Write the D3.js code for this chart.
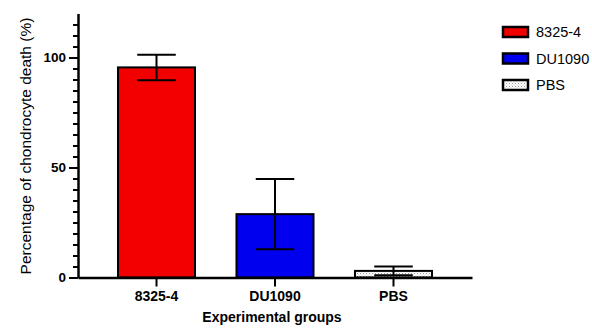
<!DOCTYPE html>
<html>
<head>
<meta charset="utf-8">
<script src="https://cdn.jsdelivr.net/npm/d3@7"></script>
<style>
  body { margin: 0; background: #fff; }
  svg text { font-family: "Liberation Sans", Arial, sans-serif; fill: #000; }
</style>
</head>
<body>
<div id="chart"></div>
<script>
// data
var groups = ["8325-4", "DU1090", "PBS"];
var means = [95.5, 28.8, 3.0];
var sds = [5.8, 16.0, 2.0];
var colors = ["#f20000", "#0000ee", "url(#dots)"];
var majorTicks = [0, 50, 100];
var minorTicks = [5, 10, 15, 20, 25, 30, 35, 40, 45, 55, 60, 65, 70, 75, 80, 85, 90, 95, 105, 110, 115];

var width = 592, height = 330;

var svg = d3.select("#chart").append("svg")
    .attr("width", width)
    .attr("height", height);

// dotted fill for the PBS bar
var pat = svg.append("defs").append("pattern")
    .attr("id", "dots")
    .attr("patternUnits", "userSpaceOnUse")
    .attr("width", 3).attr("height", 3);
pat.append("rect").attr("width", 3).attr("height", 3).attr("fill", "#fff");
pat.append("rect").attr("x", 0).attr("y", 0).attr("width", 1).attr("height", 1).attr("fill", "#999");
pat.append("rect").attr("x", 1.5).attr("y", 1.5).attr("width", 1).attr("height", 1).attr("fill", "#bbb");

// scales
var x = d3.scaleBand()
    .domain(groups)
    .range([78, 472])
    .paddingInner(0.35)
    .paddingOuter(0.3375);

var y = d3.scaleLinear()
    .domain([0, 120])
    .range([277.5, 13.5]);

// bars
svg.selectAll("rect.bar")
    .data(groups)
    .enter()
    .append("rect")
    .attr("class", "bar")
    .attr("x", function(d) { return x(d); })
    .attr("y", function(d, i) { return y(means[i]); })
    .attr("width", x.bandwidth())
    .attr("height", function(d, i) { return y(0) - y(means[i]); })
    .attr("fill", function(d, i) { return colors[i]; })
    .attr("stroke", "#000")
    .attr("stroke-width", 2);

// error bars (mean +/- sd)
var capW = x.bandwidth() / 2;
var err = svg.selectAll("g.err")
    .data(groups)
    .enter()
    .append("g")
    .attr("class", "err")
    .attr("stroke", "#000")
    .attr("stroke-width", 2);

err.append("line")
    .attr("x1", function(d) { return x(d) + x.bandwidth() / 2; })
    .attr("x2", function(d) { return x(d) + x.bandwidth() / 2; })
    .attr("y1", function(d, i) { return y(means[i] - sds[i]); })
    .attr("y2", function(d, i) { return y(means[i] + sds[i]); });

err.append("line")
    .attr("x1", function(d) { return x(d) + x.bandwidth() / 2 - capW / 2; })
    .attr("x2", function(d) { return x(d) + x.bandwidth() / 2 + capW / 2; })
    .attr("y1", function(d, i) { return y(means[i] + sds[i]); })
    .attr("y2", function(d, i) { return y(means[i] + sds[i]); });

err.append("line")
    .attr("x1", function(d) { return x(d) + x.bandwidth() / 2 - capW / 2; })
    .attr("x2", function(d) { return x(d) + x.bandwidth() / 2 + capW / 2; })
    .attr("y1", function(d, i) { return y(means[i] - sds[i]); })
    .attr("y2", function(d, i) { return y(means[i] - sds[i]); });

// y axis: minor ticks, then major ticks with labels
svg.append("g")
    .attr("transform", "translate(78,0)")
    .call(d3.axisLeft(y).tickValues(minorTicks).tickSize(5).tickFormat("").tickSizeOuter(0))
    .call(function(g) {
      g.select(".domain").remove();
      g.selectAll("line").attr("stroke-width", 2);
    });

var yAxis = svg.append("g")
    .attr("transform", "translate(78,0)")
    .call(d3.axisLeft(y).tickValues(majorTicks).tickSize(9).tickPadding(3).tickSizeOuter(0));
yAxis.select(".domain").attr("stroke-width", 2.5);
yAxis.selectAll("line").attr("stroke-width", 2);
yAxis.selectAll("text")
    .style("font-size", "13.5px")
    .style("font-weight", "bold");

// x axis
var xAxis = svg.append("g")
    .attr("transform", "translate(0," + y(0) + ")")
    .call(d3.axisBottom(x).tickSize(9).tickPadding(5).tickSizeOuter(0));
xAxis.select(".domain").attr("stroke-width", 2.5);
xAxis.selectAll("line").attr("stroke-width", 2);
xAxis.selectAll("text")
    .style("font-size", "14px")
    .style("font-weight", "bold");

// axis titles
svg.append("text")
    .attr("x", 272)
    .attr("y", 322)
    .attr("text-anchor", "middle")
    .style("font-size", "14px")
    .style("font-weight", "bold")
    .text("Experimental groups");

svg.append("text")
    .attr("transform", "translate(31,146) rotate(-90)")
    .attr("text-anchor", "middle")
    .style("font-size", "15.5px")
    .text("Percentage of chondrocyte death (%)");

// legend
var legend = svg.selectAll("g.legend")
    .data(groups)
    .enter()
    .append("g")
    .attr("class", "legend")
    .attr("transform", function(d, i) { return "translate(503," + (27 + i * 26.5) + ")"; });

legend.append("rect")
    .attr("width", 25)
    .attr("height", 10)
    .attr("fill", function(d, i) { return colors[i]; })
    .attr("stroke", "#000")
    .attr("stroke-width", 2.5);

legend.append("text")
    .attr("x", 33)
    .attr("y", 5)
    .attr("dy", "0.35em")
    .style("font-size", "14.5px")
    .text(function(d) { return d; });
</script>
</body>
</html>
